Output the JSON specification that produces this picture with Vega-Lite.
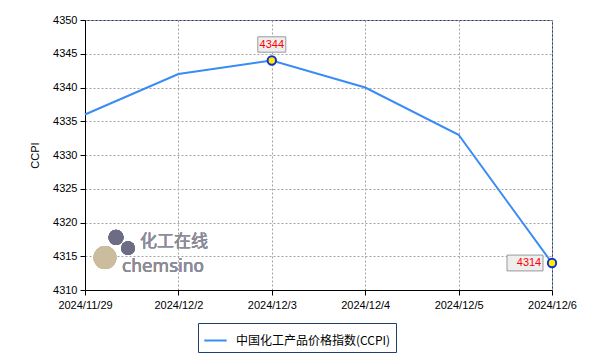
{
  "$schema": "https://vega.github.io/schema/vega-lite/v6.json",
  "width": 467,
  "height": 270,
  "autosize": {"type": "none"},
  "padding": {"left": 85, "top": 20, "right": 52, "bottom": 74},
  "background": "white",
  "config": {
    "view": {"stroke": "#1f3f6f", "strokeWidth": 1},
    "font": "Liberation Sans",
    "axis": {
      "domainColor": "#000000",
      "tickColor": "#000000",
      "tickSize": 5,
      "labelColor": "#000000",
      "labelFontSize": 11,
      "labelFont": "Liberation Sans",
      "gridColor": "#a8a0a8",
      "gridDash": [2, 2],
      "gridWidth": 1
    }
  },
  "data": {
    "values": [
      {"date": "2024/11/29", "value": 4336},
      {"date": "2024/12/2", "value": 4342},
      {"date": "2024/12/3", "value": 4344},
      {"date": "2024/12/4", "value": 4340},
      {"date": "2024/12/5", "value": 4333},
      {"date": "2024/12/6", "value": 4314}
    ]
  },
  "encoding": {
    "x": {
      "field": "date",
      "type": "ordinal",
      "sort": null,
      "scale": {"type": "point", "padding": 0},
      "axis": {"title": null, "labelAngle": 0, "labelPadding": 4, "grid": true}
    },
    "y": {
      "field": "value",
      "type": "quantitative",
      "scale": {"domain": [4310, 4350], "nice": false, "zero": false},
      "axis": {"title": "CCPI", "titleFontWeight": "normal", "titleFontSize": 11, "titlePadding": 12, "format": "d", "values": [4310, 4315, 4320, 4325, 4330, 4335, 4340, 4345, 4350], "labelPadding": 3, "grid": true}
    }
  },
  "layer": [
    {
      "mark": {"type": "circle", "size": 530, "color": "#c9bb9c", "opacity": 0.8},
      "encoding": {"x": {"datum": "2024/11/29"}, "y": {"datum": 4314.8}, "xOffset": {"value": 20}}
    },
    {
      "mark": {"type": "circle", "size": 230, "color": "#6c6c84", "opacity": 0.85},
      "encoding": {"x": {"datum": "2024/11/29"}, "y": {"datum": 4317.8}, "xOffset": {"value": 31}}
    },
    {
      "mark": {"type": "circle", "size": 190, "color": "#6c6c84", "opacity": 0.85},
      "encoding": {"x": {"datum": "2024/11/29"}, "y": {"datum": 4316.2}, "xOffset": {"value": 43}}
    },
    {
      "mark": {"type": "text", "text": "化工在线", "font": "Noto Sans CJK SC", "fontSize": 17, "color": "#8c8c99", "align": "left", "baseline": "alphabetic", "dx": 55, "opacity": 0.85},
      "encoding": {"x": {"datum": "2024/11/29"}, "y": {"datum": 4316.3}}
    },
    {
      "mark": {"type": "text", "text": "chemsino", "font": "DejaVu Sans", "fontSize": 17, "color": "#8c8c99", "align": "left", "baseline": "alphabetic", "dx": 37, "opacity": 0.85},
      "encoding": {"x": {"datum": "2024/11/29"}, "y": {"datum": 4312.6}}
    },
    {
      "mark": {"type": "line", "color": "#3a8cf5", "strokeWidth": 2},
      "encoding": {"color": {"datum": "中国化工产品价格指数(CCPI)", "scale": {"range": ["#3a8cf5"]}, "legend": {
        "orient": "none", "legendX": 113, "legendY": 303, "title": null,
        "symbolType": "stroke", "symbolSize": 500, "symbolStrokeWidth": 2,
        "labelFont": "Noto Sans CJK SC", "labelFontSize": 12, "labelColor": "#000000",
        "strokeColor": "#1f3f6f", "fillColor": "white", "padding": 5, "labelOffset": 8
      }}}
    },
    {
      "transform": [{"filter": "datum.date == '2024/12/3' || datum.date == '2024/12/6'"}],
      "mark": {"type": "point", "filled": true, "fill": "#ffee00", "stroke": "#1030d0", "strokeWidth": 2, "size": 70, "opacity": 1}
    },
    {
      "transform": [{"filter": "datum.date == '2024/12/3'"}],
      "mark": {"type": "point", "shape": "M-1,-0.55H1V0.55H-1Z", "size": 784, "filled": true, "fill": "#eeeeee", "stroke": "#999999", "strokeWidth": 1, "opacity": 1, "yOffset": -16}
    },
    {
      "transform": [{"filter": "datum.date == '2024/12/3'"}],
      "mark": {"type": "text", "color": "#ff0000", "fontSize": 11, "dy": -16},
      "encoding": {"text": {"field": "value", "type": "quantitative", "format": "d"}}
    },
    {
      "transform": [{"filter": "datum.date == '2024/12/6'"}],
      "mark": {"type": "point", "shape": "M-1,-0.44H1V0.44H-1Z", "size": 1296, "filled": true, "fill": "#eeeeee", "stroke": "#999999", "strokeWidth": 1, "opacity": 1, "xOffset": -27}
    },
    {
      "transform": [{"filter": "datum.date == '2024/12/6'"}],
      "mark": {"type": "text", "color": "#ff0000", "fontSize": 11, "dx": -23},
      "encoding": {"text": {"field": "value", "type": "quantitative", "format": "d"}}
    }
  ]
}
